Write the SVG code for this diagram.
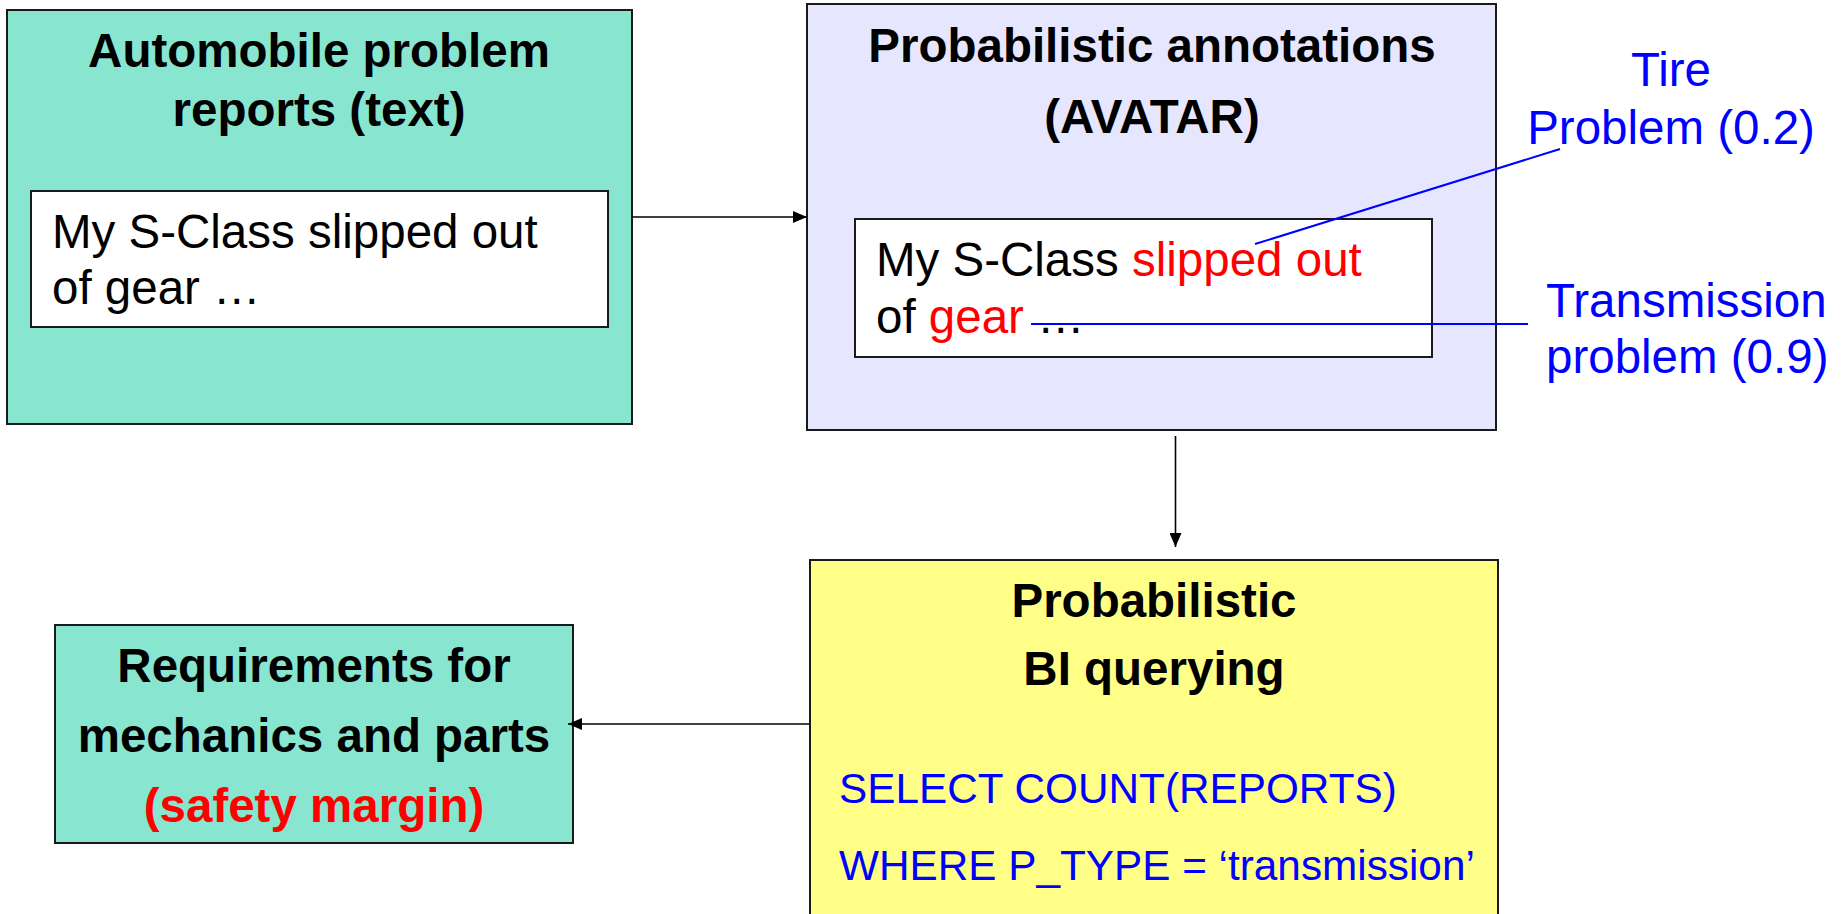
<svg xmlns="http://www.w3.org/2000/svg" width="1842" height="914" viewBox="0 0 1842 914">
  <style>
    .box { stroke: #1a1a1a; stroke-width: 2; }
    .teal { fill: #88E6D0; }
    .lilac { fill: #E6E6FF; }
    .yellow { fill: #FFFF88; }
    .white { fill: #FFFFFF; }
    .title { font-family: "Liberation Sans", Arial, sans-serif; font-weight: bold; font-size: 47.5px; fill: #000; text-anchor: middle; }
    .body { font-family: "Liberation Sans", Arial, sans-serif; font-size: 47.5px; fill: #000; }
    .note { font-family: "Liberation Sans", Arial, sans-serif; font-size: 47.5px; fill: #0000FF; }
    .sql { font-family: "Liberation Sans", Arial, sans-serif; font-size: 42.3px; fill: #0000FF; }
    .red { fill: #FF0000; }
    .flow { stroke: #000; stroke-width: 1.6; fill: none; }
    .tag { stroke: #0000FF; stroke-width: 2; fill: none; }
  </style>
  <defs>
    <marker id="arrow" markerUnits="userSpaceOnUse" markerWidth="14" markerHeight="12" refX="14" refY="6" orient="auto">
      <path d="M0,0 L14,6 L0,12 z" fill="#000"/>
    </marker>
  </defs>

  <rect width="1842" height="914" fill="#FFFFFF"/>

  <!-- Raw text reports -->
  <g id="reports">
    <rect class="box teal" x="7" y="10" width="625" height="414"/>
    <text class="title" x="319" y="67">Automobile problem</text>
    <text class="title" x="319" y="126">reports (text)</text>
    <rect class="box white" x="31" y="191" width="577" height="136"/>
    <text class="body" x="52" y="248">My S-Class slipped out</text>
    <text class="body" x="52" y="304">of gear …</text>
  </g>

  <!-- Annotated report -->
  <g id="annotations">
    <rect class="box lilac" x="807" y="4" width="689" height="426"/>
    <text class="title" x="1152" y="62">Probabilistic annotations</text>
    <text class="title" x="1152" y="133">(AVATAR)</text>
    <rect class="box white" x="855" y="219" width="577" height="138"/>
    <text class="body" x="876" y="276">My S-Class <tspan class="red">slipped out</tspan></text>
    <text class="body" x="876" y="333">of <tspan class="red">gear</tspan> …</text>
  </g>

  <!-- Annotation labels -->
  <g id="label-tire">
    <text class="note" x="1671" y="86" text-anchor="middle">Tire</text>
    <text class="note" x="1671" y="144" text-anchor="middle">Problem (0.2)</text>
  </g>
  <g id="label-transmission">
    <text class="note" x="1546" y="317">Transmission</text>
    <text class="note" x="1546" y="373">problem (0.9)</text>
  </g>

  <!-- Query stage -->
  <g id="querying">
    <rect class="box yellow" x="810" y="560" width="688" height="400"/>
    <text class="title" x="1154" y="617">Probabilistic</text>
    <text class="title" x="1154" y="685">BI querying</text>
    <text class="sql" x="839" y="803">SELECT COUNT(REPORTS)</text>
    <text class="sql" x="839" y="880">WHERE P_TYPE = ‘transmission’</text>
  </g>

  <!-- Outcome -->
  <g id="requirements">
    <rect class="box teal" x="55" y="625" width="518" height="218"/>
    <text class="title" x="314" y="682">Requirements for</text>
    <text class="title" x="314" y="752">mechanics and parts</text>
    <text class="title red" x="314" y="822">(safety margin)</text>
  </g>

  <!-- Connectors -->
  <g id="connectors">
    <line class="flow" x1="632" y1="217" x2="807" y2="217" marker-end="url(#arrow)"/>
    <line class="flow" x1="1175.5" y1="436" x2="1175.5" y2="547" marker-end="url(#arrow)"/>
    <line class="flow" x1="810" y1="724" x2="568" y2="724" marker-end="url(#arrow)"/>
    <line class="tag" x1="1255" y1="244" x2="1560" y2="149"/>
    <line class="tag" x1="1031" y1="324" x2="1528" y2="324"/>
  </g>
</svg>
